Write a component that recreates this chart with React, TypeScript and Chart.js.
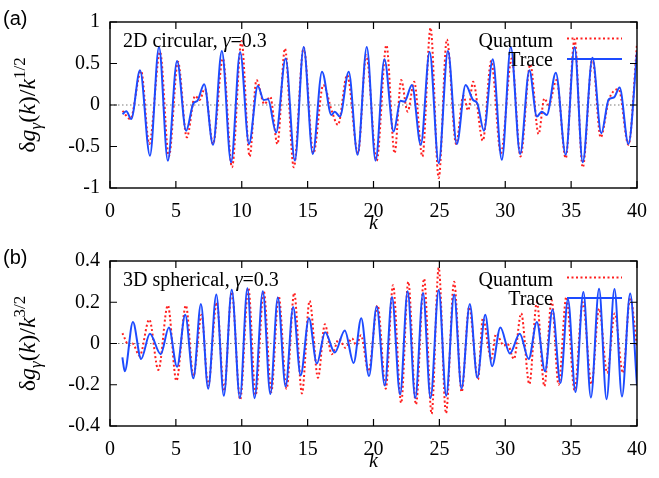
import React, { useEffect, useRef } from 'react';
import { Chart, registerables } from 'chart.js';

Chart.register(...registerables);

const SERIF = '"Liberation Serif", "Times New Roman", Times, serif';
const SANS = '"Liberation Sans", Arial, Helvetica, sans-serif';
const BLUE = '#1d4bff';
const RED = '#ff1f1f';

// Axis ticks
const kTicks = [0, 5, 10, 15, 20, 25, 30, 35, 40];
const yTicksA = [-1, -0.5, 0, 0.5, 1];
const yTicksB = [-0.4, -0.2, 0, 0.2, 0.4];

// (a) 2D circular billiard, trace formula
const kTraceA = [0.95, 1.24, 1.61, 2.28, 3.03, 3.72, 4.39, 5.09, 5.78, 6.33, 6.63, 7.15, 7.82, 8.49, 9.19, 9.88, 10.55, 11.22, 11.67, 11.99, 12.61, 13.33, 14.03, 14.7, 15.39, 16.09, 16.81, 17.06, 17.45, 18.12, 18.79, 19.49, 20.16, 20.83, 21.53, 22.05, 22.35, 22.92, 23.59, 24.26, 24.95, 25.65, 26.32, 26.99, 27.56, 27.88, 28.38, 29.05, 29.74, 30.42, 31.13, 31.83, 32.4, 32.77, 33.15, 33.84, 34.59, 35.26, 35.88, 36.62, 37.29, 37.86, 38.24, 38.68, 39.35, 40.0];
const vTraceA = [-0.11, -0.075, -0.17, 0.42, -0.61, 0.7, -0.67, 0.53, -0.31, 0.02, 0.05, 0.25, -0.48, 0.65, -0.69, 0.64, -0.47, 0.23, 0.06, 0.07, -0.33, 0.56, -0.67, 0.7, -0.59, 0.4, -0.12, -0.08, -0.14, 0.4, -0.6, 0.7, -0.67, 0.55, -0.32, 0.05, 0.04, 0.24, -0.48, 0.64, -0.7, 0.65, -0.47, 0.24, 0.06, 0.02, -0.31, 0.55, -0.66, 0.7, -0.59, 0.42, -0.14, -0.08, -0.12, 0.39, -0.6, 0.7, -0.69, 0.57, -0.34, 0.07, 0.09, 0.21, -0.47, 0.64];

// (a) quantum result
const kQuantA = [0.95, 1.54, 2.36, 2.98, 3.8, 4.47, 5.16, 5.83, 6.46, 6.8, 7.2, 7.82, 8.57, 9.26, 9.98, 10.6, 11.12, 11.72, 12.16, 12.71, 13.28, 13.95, 14.7, 15.44, 16.19, 16.85, 17.3, 18.0, 18.82, 19.45, 20.24, 20.98, 21.6, 22.1, 22.59, 23.09, 23.71, 24.33, 24.95, 25.57, 26.27, 26.82, 27.19, 27.56, 28.3, 28.93, 29.67, 30.49, 31.16, 31.9, 32.53, 32.97, 33.3, 33.89, 34.59, 35.26, 35.88, 36.62, 37.24, 37.86, 38.61, 39.35, 40.0];
const vQuantA = [-0.07, -0.17, 0.41, -0.47, 0.64, -0.62, 0.52, -0.39, 0.11, 0.06, 0.2, -0.47, 0.56, -0.75, 0.77, -0.62, 0.3, 0.01, 0.1, -0.47, 0.68, -0.75, 0.69, -0.58, 0.24, -0.08, -0.24, 0.36, -0.58, 0.6, -0.67, 0.72, -0.58, 0.3, -0.08, 0.28, -0.62, 0.93, -0.88, 0.79, -0.47, 0.11, -0.065, 0.28, -0.43, 0.53, -0.58, 0.56, -0.62, 0.49, -0.35, 0.08, 0.0, 0.3, -0.64, 0.79, -0.75, 0.56, -0.39, 0.06, 0.19, -0.48, 0.735];

// (b) 3D spherical billiard, trace formula
const kTraceB = [0.94, 1.12, 1.74, 2.36, 3.03, 3.85, 4.47, 5.09, 5.71, 6.33, 6.9, 7.45, 8.07, 8.64, 9.24, 9.86, 10.43, 10.97, 11.6, 12.17, 12.74, 13.33, 13.9, 14.47, 15.1, 15.7, 16.33, 17.06, 17.82, 18.49, 19.07, 19.66, 20.24, 20.86, 21.4, 22.02, 22.59, 23.17, 23.76, 24.33, 24.95, 25.52, 26.12, 26.68, 27.31, 27.88, 28.48, 29.0, 29.63, 30.35, 31.1, 31.78, 32.4, 33.02, 33.59, 34.19, 34.76, 35.33, 35.93, 36.5, 37.12, 37.69, 38.29, 38.86, 39.48, 40.0];
const vTraceB = [-0.067, -0.135, 0.104, -0.075, 0.047, -0.052, 0.078, -0.113, 0.139, -0.169, 0.192, -0.219, 0.238, -0.253, 0.261, -0.265, 0.268, -0.265, 0.253, -0.245, 0.223, -0.209, 0.177, -0.154, 0.123, -0.097, 0.055, -0.044, 0.063, -0.094, 0.123, -0.158, 0.18, -0.204, 0.226, -0.247, 0.253, -0.265, 0.245, -0.265, 0.26, -0.253, 0.238, -0.219, 0.192, -0.166, 0.139, -0.11, 0.078, -0.048, 0.047, -0.075, 0.104, -0.135, 0.165, -0.192, 0.215, -0.235, 0.25, -0.262, 0.265, -0.27, 0.264, -0.257, 0.242, -0.204];

// (b) quantum result
const kQuantB = [0.94, 1.45, 1.7, 2.25, 2.98, 3.67, 4.39, 5.04, 5.76, 6.33, 6.95, 7.45, 8.1, 8.66, 9.24, 9.88, 10.5, 11.05, 11.67, 12.24, 12.8, 13.4, 13.98, 14.57, 15.15, 15.79, 16.31, 16.83, 17.38, 17.87, 18.37, 18.7, 19.05, 19.62, 20.31, 20.93, 21.48, 22.1, 22.64, 23.22, 23.84, 24.41, 24.95, 25.5, 26.12, 26.69, 27.26, 27.93, 28.3, 28.93, 29.3, 29.9, 30.15, 30.66, 31.21, 31.83, 32.4, 32.97, 33.52, 34.05, 34.64, 35.26, 35.88, 36.55, 37.12, 37.74, 38.31, 38.93, 39.48, 40.0];
const vQuantB = [0.05, -0.01, 0.0, -0.06, 0.116, -0.128, 0.185, -0.181, 0.185, -0.158, 0.139, -0.204, 0.2, -0.23, 0.25, -0.272, 0.27, -0.25, 0.253, -0.235, 0.23, -0.22, 0.245, -0.242, 0.207, -0.166, 0.093, -0.052, 0.021, -0.021, 0.025, -0.01, 0.04, -0.135, 0.185, -0.219, 0.283, -0.288, 0.299, -0.295, 0.314, -0.341, 0.367, -0.338, 0.299, -0.235, 0.177, -0.174, 0.123, -0.075, 0.047, -0.01, 0.0, -0.075, 0.146, -0.197, 0.2, -0.207, 0.21, -0.2, 0.226, -0.227, 0.2, -0.197, 0.169, -0.143, 0.146, -0.143, 0.223, -0.02];

type Run = { t: string; size: number; italic?: boolean; dy?: number };

type Panel = {
  tag: string;
  caption: Run[];
  sup: string;
  kT: number[];
  vT: number[];
  kQ: number[];
  vQ: number[];
  yTicks: number[];
  top: number;
  plotTop: number;
  axisH: number;
};

const W = 659;
const H = 239;

const fontOf = (r: Run) => `${r.italic ? 'italic ' : ''}${r.size}px ${SERIF}`;

function runsWidth(ctx: CanvasRenderingContext2D, runs: Run[]) {
  let w = 0;
  for (const r of runs) {
    ctx.font = fontOf(r);
    w += ctx.measureText(r.t).width;
  }
  return w;
}

function drawRuns(ctx: CanvasRenderingContext2D, runs: Run[], x: number, y: number) {
  let cx = x;
  for (const r of runs) {
    ctx.font = fontOf(r);
    ctx.fillText(r.t, cx, y + (r.dy || 0));
    cx += ctx.measureText(r.t).width;
  }
}

const fmt = (v: number) => (Math.abs(v) < 1e-9 ? '0' : String(parseFloat(v.toFixed(2))));

function decorPlugin(p: Panel) {
  return {
    id: 'decor' + p.tag,
    beforeDatasetsDraw(chart: any) {
      const { ctx, chartArea: a, scales } = chart;
      const y0 = scales.y.getPixelForValue(0);
      ctx.save();
      ctx.strokeStyle = '#7a7a7a';
      ctx.lineWidth = 1.2;
      ctx.setLineDash([1.5, 2.5]);
      ctx.beginPath();
      ctx.moveTo(a.left, y0);
      ctx.lineTo(a.right, y0);
      ctx.stroke();
      ctx.restore();
    },
    afterDraw(chart: any) {
      const { ctx, chartArea: a, scales } = chart;
      ctx.save();
      // frame
      ctx.strokeStyle = '#000';
      ctx.lineWidth = 1.4;
      ctx.strokeRect(a.left, a.top, a.right - a.left, a.bottom - a.top);
      // inward tick marks on all four sides
      const tl = 7;
      ctx.lineWidth = 1.2;
      ctx.beginPath();
      for (const k of kTicks) {
        const x = scales.x.getPixelForValue(k);
        ctx.moveTo(x, a.bottom);
        ctx.lineTo(x, a.bottom - tl);
        ctx.moveTo(x, a.top);
        ctx.lineTo(x, a.top + tl);
      }
      for (const v of p.yTicks) {
        const y = scales.y.getPixelForValue(v);
        ctx.moveTo(a.left, y);
        ctx.lineTo(a.left + tl, y);
        ctx.moveTo(a.right, y);
        ctx.lineTo(a.right - tl, y);
      }
      ctx.stroke();

      ctx.fillStyle = '#000';
      ctx.textBaseline = 'alphabetic';
      // caption inside the plot
      drawRuns(ctx, p.caption, a.left + 13, a.top + 25);

      // key
      const keyRight = 553;
      const q: Run[] = [{ t: 'Quantum', size: 20 }];
      const tr: Run[] = [{ t: 'Trace', size: 20 }];
      drawRuns(ctx, q, keyRight - runsWidth(ctx, q), a.top + 25);
      drawRuns(ctx, tr, keyRight - runsWidth(ctx, tr), a.top + 44);
      ctx.lineWidth = 2;
      ctx.strokeStyle = RED;
      ctx.setLineDash([2, 2.5]);
      ctx.beginPath();
      ctx.moveTo(567, a.top + 16.5);
      ctx.lineTo(622, a.top + 16.5);
      ctx.stroke();
      ctx.setLineDash([]);
      ctx.strokeStyle = BLUE;
      ctx.beginPath();
      ctx.moveTo(567, a.top + 37);
      ctx.lineTo(622, a.top + 37);
      ctx.stroke();

      // x title
      ctx.fillStyle = '#000';
      ctx.font = `italic 20px ${SERIF}`;
      ctx.textAlign = 'center';
      ctx.textBaseline = 'middle';
      ctx.fillText('k', (a.left + a.right) / 2, a.bottom + 36);
      ctx.textAlign = 'left';

      // y title, rotated
      const yt: Run[] = [
        { t: 'δ', size: 24 },
        { t: 'g', size: 24, italic: true },
        { t: 'γ', size: 17, italic: true, dy: 6 },
        { t: '(', size: 24 },
        { t: 'k', size: 24, italic: true },
        { t: ')', size: 24 },
        { t: '/', size: 24 },
        { t: 'k', size: 24, italic: true },
        { t: p.sup, size: 17, dy: -10 },
      ];
      ctx.save();
      ctx.translate(35, (a.top + a.bottom) / 2);
      ctx.rotate(-Math.PI / 2);
      ctx.textBaseline = 'alphabetic';
      drawRuns(ctx, yt, -runsWidth(ctx, yt) / 2, 0);
      ctx.restore();

      // panel tag
      ctx.font = `20px ${SANS}`;
      ctx.textBaseline = 'middle';
      ctx.fillText(p.tag, 3, a.top - 3);
      ctx.restore();
    },
  };
}

function PanelChart({ p }: { p: Panel }) {
  const ref = useRef<HTMLCanvasElement>(null);
  useEffect(() => {
    const canvas = ref.current;
    if (!canvas) return;
    const tickFont = { family: SERIF, size: 20 };
    const chart = new Chart(canvas, {
      type: 'line',
      data: {
        datasets: [
          {
            label: 'Trace',
            data: p.kT.map((k, i) => ({ x: k, y: p.vT[i] })),
            borderColor: BLUE,
            borderWidth: 2,
            pointRadius: 0,
            fill: false,
            cubicInterpolationMode: 'monotone',
            order: 1,
          },
          {
            label: 'Quantum',
            data: p.kQ.map((k, i) => ({ x: k, y: p.vQ[i] })),
            borderColor: RED,
            borderWidth: 2,
            borderDash: [2, 2.5],
            pointRadius: 0,
            fill: false,
            cubicInterpolationMode: 'monotone',
            order: 2,
          },
        ],
      } as any,
      options: {
        animation: false,
        responsive: false,
        devicePixelRatio: 1,
        layout: { padding: { top: p.plotTop, right: 12, left: 0, bottom: 0 } },
        plugins: { legend: { display: false }, tooltip: { enabled: false } },
        scales: {
          x: {
            type: 'linear',
            min: 0,
            max: 40,
            afterBuildTicks: (s: any) => {
              s.ticks = kTicks.map((v) => ({ value: v }));
            },
            afterFit: (s: any) => {
              s.height = p.axisH;
            },
            ticks: { font: tickFont, color: '#000', padding: 12, autoSkip: false, maxRotation: 0, callback: (v: any) => fmt(Number(v)) },
            grid: { display: false, drawTicks: false },
            border: { display: false },
          },
          y: {
            type: 'linear',
            min: p.yTicks[0],
            max: p.yTicks[p.yTicks.length - 1],
            afterBuildTicks: (s: any) => {
              s.ticks = p.yTicks.map((v) => ({ value: v }));
            },
            afterFit: (s: any) => {
              s.width = 110;
            },
            ticks: { font: tickFont, color: '#000', padding: 10, autoSkip: false, callback: (v: any) => fmt(Number(v)) },
            grid: { display: false, drawTicks: false },
            border: { display: false },
          },
        },
      } as any,
      plugins: [decorPlugin(p)],
    });
    return () => chart.destroy();
  }, [p]);
  return (
    <canvas
      ref={ref}
      width={W}
      height={H}
      style={{ position: 'absolute', left: 0, top: p.top, width: W, height: H }}
    />
  );
}

const panelA: Panel = {
  tag: '(a)',
  caption: [
    { t: '2D circular, ', size: 20 },
    { t: 'γ', size: 20, italic: true },
    { t: '=0.3', size: 20 },
  ],
  sup: '1/2',
  kT: kTraceA,
  vT: vTraceA,
  kQ: kQuantA,
  vQ: vQuantA,
  yTicks: yTicksA,
  top: 0,
  plotTop: 13,
  axisH: 51,
};

const panelB: Panel = {
  tag: '(b)',
  caption: [
    { t: '3D spherical, ', size: 20 },
    { t: 'γ', size: 20, italic: true },
    { t: '=0.3', size: 20 },
  ],
  sup: '3/2',
  kT: kTraceB,
  vT: vTraceB,
  kQ: kQuantB,
  vQ: vQuantB,
  yTicks: yTicksB,
  top: 239,
  plotTop: 12,
  axisH: 52,
};

export default function App() {
  return (
    <div style={{ position: 'absolute', left: 0, top: 0, width: W, height: 478, background: '#fff', overflow: 'hidden' }}>
      <PanelChart p={panelA} />
      <PanelChart p={panelB} />
    </div>
  );
}
